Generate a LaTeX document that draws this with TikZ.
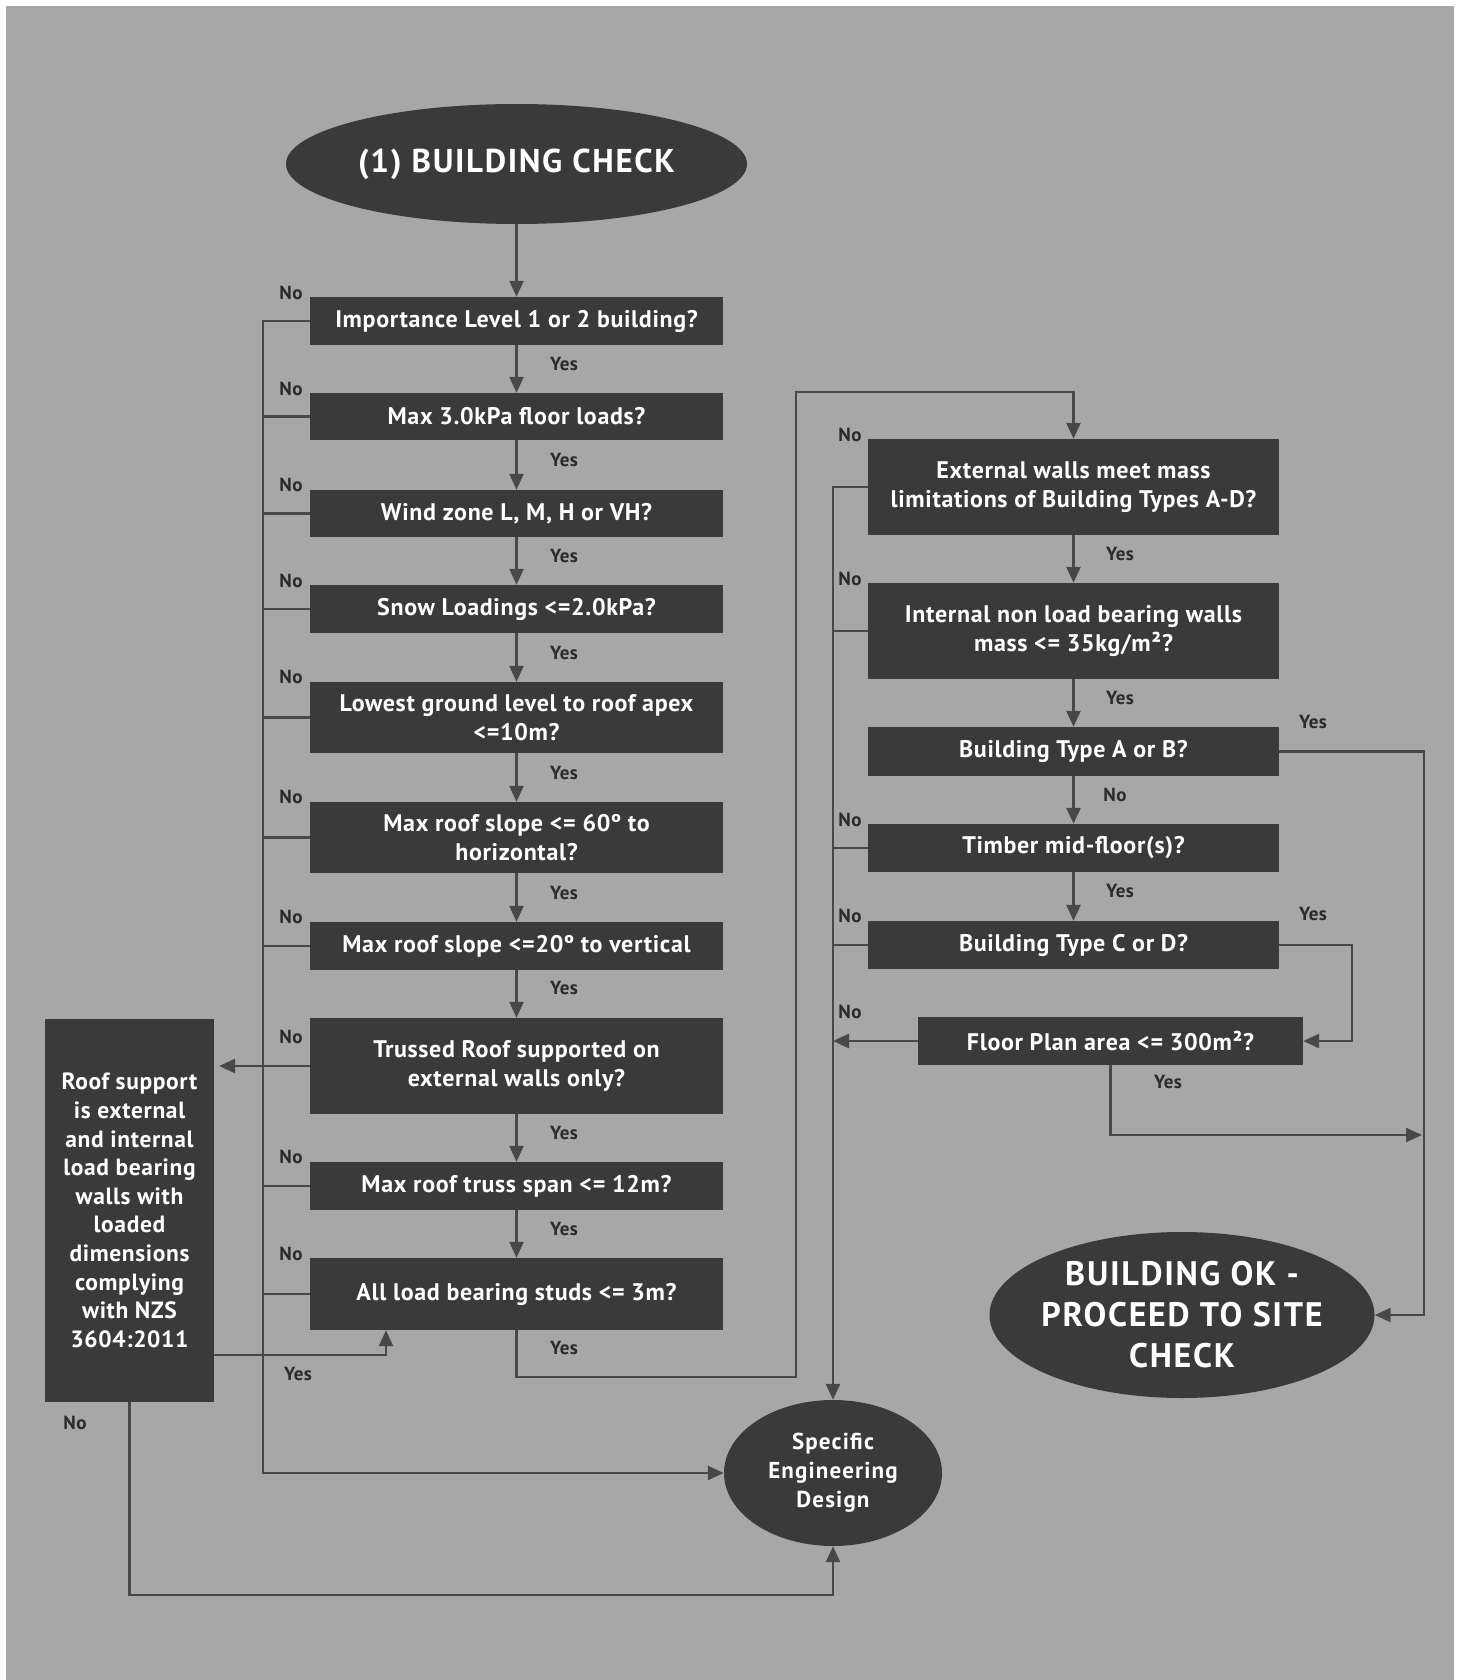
\documentclass[tikz,border=0pt]{standalone}
\usepackage{fontspec}
\setmainfont{PT Sans}
\newfontfamily\dinA[LetterSpace=2.7]{PT Sans}
\newfontfamily\dinB[LetterSpace=5]{PT Sans}
\newfontfamily\dinL[LetterSpace=2]{PT Sans}
\usetikzlibrary{arrows.meta,shapes.geometric}
\definecolor{bg}{HTML}{A7A7A7}
\definecolor{boxc}{HTML}{3A3A3A}
\definecolor{linec}{HTML}{484848}
\definecolor{lab}{HTML}{2B2B2B}
\begin{document}
\begin{tikzpicture}[x=1pt,y=-1pt,
  qbox/.style={rectangle, fill=boxc, text=white, font=\dinA\bfseries\fontsize{24}{29}\selectfont, align=center, inner sep=0pt, minimum width=413pt},
  rbox/.style={qbox, minimum width=411pt},
  oval/.style={ellipse, fill=boxc, text=white, align=center, inner sep=0pt},
  conn/.style={draw=linec, line width=2.6pt},
  arr/.style={conn, -{Triangle[length=16pt,width=14pt]}},
  lbl/.style={text=lab, font=\dinL\bfseries\fontsize{19}{19}\selectfont, inner sep=0pt}
]
\useasboundingbox (0,0) rectangle (1464,1680);
\fill[white] (0,0) rectangle (1464,1680);
\fill[bg] (6,6) rectangle (1454,1680);

% start
\node[oval, minimum width=461pt, minimum height=120pt, font=\dinB\bfseries\fontsize{33}{33}\selectfont] (start) at (516.5,164) {(1) BUILDING CHECK};

% left column
\node[qbox, minimum height=48pt] (b1) at (516.5,321) {Importance Level 1 or 2 building?};
\node[qbox, minimum height=47pt] (b2) at (516.5,416.5) {Max 3.0kPa floor loads?};
\node[qbox, minimum height=47pt] (b3) at (516.5,513.5) {Wind zone L, M, H or VH?};
\node[qbox, minimum height=48pt] (b4) at (516.5,609) {Snow Loadings <=2.0kPa?};
\node[qbox, minimum height=71pt] (b5) at (516.5,717.5) {Lowest ground level to roof apex\\<=10m?};
\node[qbox, minimum height=71pt] (b6) at (516.5,837.5) {Max roof slope <= 60º to\\horizontal?};
\node[qbox, minimum height=48pt] (b7) at (516.5,946) {Max roof slope <=20º to vertical};
\node[qbox, minimum height=96pt] (b8) at (516.5,1066) {Trussed Roof supported on\\external walls only?};
\node[qbox, minimum height=48pt] (b9) at (516.5,1186) {Max roof truss span <= 12m?};
\node[qbox, minimum height=72pt] (b10) at (516.5,1294) {All load bearing studs <= 3m?};

% roof support box
\node[qbox, minimum width=169pt, minimum height=383pt, font=\dinA\bfseries\fontsize{23.5}{28.6}\selectfont] (roof) at (129.5,1210.5) {Roof support\\is external\\and internal\\load bearing\\walls with\\loaded\\dimensions\\complying\\with NZS\\3604:2011};

% right column
\node[rbox, minimum height=96pt] (r1) at (1073.5,487) {External walls meet mass\\limitations of Building Types A-D?};
\node[rbox, minimum height=96pt] (r2) at (1073.5,631) {Internal non load bearing walls\\mass <= 35kg/m²?};
\node[rbox, minimum height=49pt] (r3) at (1073.5,751.5) {Building Type A or B?};
\node[rbox, minimum height=48pt] (r4) at (1073.5,848) {Timber mid-floor(s)?};
\node[rbox, minimum height=48pt] (r5) at (1073.5,945) {Building Type C or D?};
\node[qbox, minimum width=385pt, minimum height=48pt] (r6) at (1110.5,1041) {Floor Plan area <= 300m²?};

% terminal ovals
\node[oval, minimum width=218pt, minimum height=146pt, font=\dinB\bfseries\fontsize{23}{29}\selectfont] (spec) at (833,1473) {Specific\\Engineering\\Design};
\node[oval, inner xsep=-10pt, minimum width=385pt, minimum height=166pt, font=\dinB\bfseries\fontsize{34}{41}\selectfont] (ok) at (1182,1315) {BUILDING OK -\\PROCEED TO SITE\\CHECK};

% coordinates
\coordinate (Lbot) at (263,1473);
\coordinate (ry) at (386,1355);
\coordinate (rn) at (129.5,1595);
\coordinate (c2) at (796,1377);
\coordinate (c3) at (796,392);
\coordinate (yA) at (1424,751.5);
\coordinate (yC) at (1352,945);
\coordinate (yB) at (1422,1135);

% yes chain left
\draw[arr] (start.south) -- (b1.north);
\draw[arr] (b1.south) -- (b2.north);
\draw[arr] (b2.south) -- (b3.north);
\draw[arr] (b3.south) -- (b4.north);
\draw[arr] (b4.south) -- (b5.north);
\draw[arr] (b5.south) -- (b6.north);
\draw[arr] (b6.south) -- (b7.north);
\draw[arr] (b7.south) -- (b8.north);
\draw[arr] (b8.south) -- (b9.north);
\draw[arr] (b9.south) -- (b10.north);

% no lines left
\draw[arr] (b1.west) -| (Lbot) -- (spec.west);
\foreach \n in {b2,b3,b4,b5,b6,b7,b9,b10} {
  \draw[conn] (\n.west) -- (\n.west -| Lbot);
}
\draw[arr, shorten >=5pt] (b8.west) -- (b8.west -| roof.east);

% roof support exits
\draw[arr] (ry -| roof.east) -- (ry) -- (ry |- b10.south);
\draw[arr] (roof.south) -- (rn) -| (spec.south);

% b10 yes to right column
\draw[arr] (b10.south) |- (c2) -- (c3) -| (r1.north);

% right chain
\draw[arr] (r1.south) -- (r2.north);
\draw[arr] (r2.south) -- (r3.north);
\draw[arr] (r3.south) -- (r4.north);
\draw[arr] (r4.south) -- (r5.north);

% right no lines
\draw[arr] (r1.west) -| (spec.north);
\foreach \n in {r2,r4,r5} {
  \draw[conn] (\n.west) -- (\n.west -| spec.north);
}
\draw[arr] (r6.west) -- (r6.west -| spec.north);

% right yes paths
\draw[arr] (r3.east) -- (yA) |- (ok.east);
\draw[arr] (r5.east) -- (yC) |- (r6.east);
\draw[arr] (r6.south) |- (yB);

% labels: left No
\foreach \y in {293,389,485,581,677,797,917,1037,1157,1254} {
  \node[lbl] at (291,\y) {No};
}
% labels: left Yes
\foreach \y in {364,460,556,653,773,893,988,1133,1229,1348} {
  \node[lbl] at (564,\y) {Yes};
}
\node[lbl] at (298,1374) {Yes};
\node[lbl] at (75,1423) {No};

% labels: right
\foreach \y in {435,579,820,916,1012} {
  \node[lbl] at (850,\y) {No};
}
\foreach \y in {554,698,891} {
  \node[lbl] at (1120,\y) {Yes};
}
\node[lbl] at (1115,795) {No};
\node[lbl] at (1313,722) {Yes};
\node[lbl] at (1313,914) {Yes};
\node[lbl] at (1168,1082) {Yes};
\end{tikzpicture}
\end{document}
